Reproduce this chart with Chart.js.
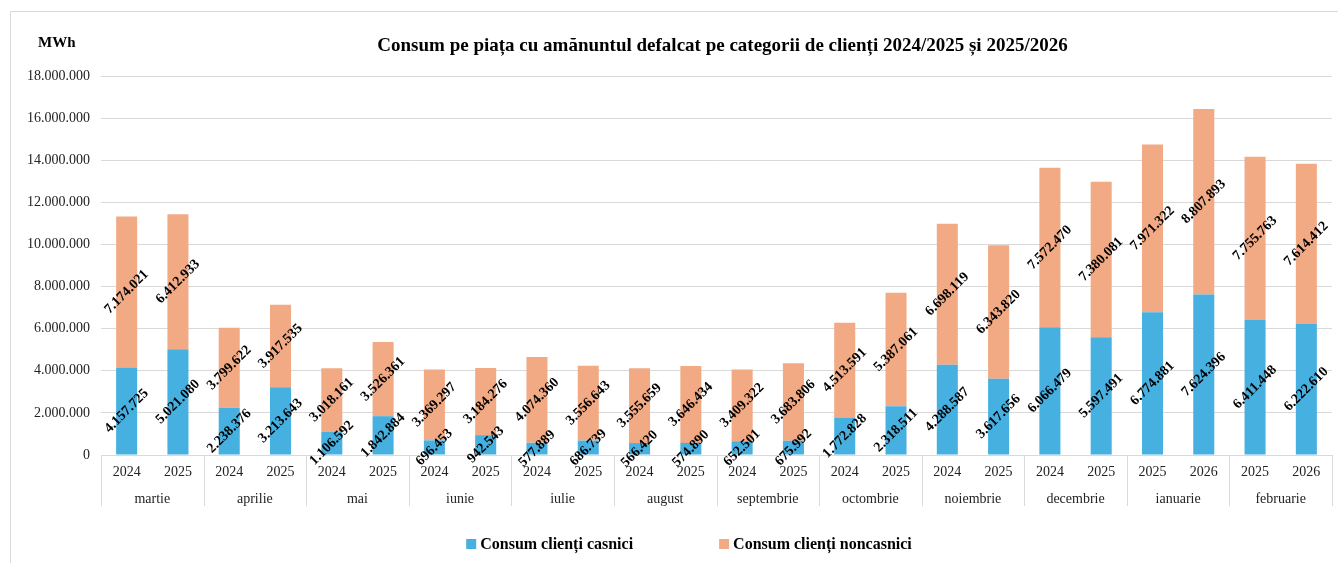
<!DOCTYPE html>
<html lang="ro">
<head>
<meta charset="utf-8">
<title>Consum pe piața cu amănuntul</title>
<script src="https://cdn.jsdelivr.net/npm/chart.js@4.4.1/dist/chart.umd.min.js"></script>
<style>
  html, body { margin: 0; padding: 0; background: #fff; }
  #wrap { position: relative; width: 1338px; height: 563px; }
</style>
</head>
<body>
<div id="wrap"><canvas id="consumChart"></canvas></div>
<script>
const months = ['martie', 'aprilie', 'mai', 'iunie', 'iulie', 'august',
    'septembrie', 'octombrie', 'noiembrie', 'decembrie', 'ianuarie', 'februarie'];
const years = ['2024', '2025', '2024', '2025', '2024', '2025', '2024', '2025',
    '2024', '2025', '2024', '2025', '2024', '2025', '2024', '2025',
    '2024', '2025', '2024', '2025', '2025', '2026', '2025', '2026'];
const casnici = [4157725, 5021080, 2238376, 3213643, 1106592, 1842884, 696453, 942543,
    577889, 686739, 566420, 574890, 652501, 675992, 1772828, 2318511,
    4288587, 3617656, 6066479, 5597491, 6774881, 7624396, 6411448, 6222610];
const noncasnici = [7174021, 6412933, 3799622, 3917535, 3018161, 3526361, 3369297, 3184276,
    4074360, 3556643, 3555659, 3646434, 3409322, 3683806, 4513591, 5387061,
    6698119, 6343820, 7572470, 7380081, 7971322, 8807893, 7755763, 7614412];
const seriesNames = ['Consum clienți casnici', 'Consum clienți noncasnici'];
const seriesColors = ['#46b0e1', '#f2aa84'];
const yMax = 18000000;
const yStep = 2000000;
const chartTitle = 'Consum pe piața cu amănuntul defalcat pe categorii de clienți 2024/2025 și 2025/2026';
const unitLabel = 'MWh';

const serif = '"Liberation Serif", "Times New Roman", serif';
const gridColor = '#d9d9d9';

// 1.234.567 style numbers
function fmt(v) {
    return String(Math.round(v)).replace(/\B(?=(\d{3})+(?!\d))/g, '.');
}

// frame, title, unit label and legend
const decorPlugin = {
    id: 'decor',
    beforeDraw(chart) {
        const ctx = chart.ctx;
        ctx.save();
        ctx.strokeStyle = gridColor;
        ctx.lineWidth = 1;
        ctx.beginPath();
        ctx.moveTo(10.5, chart.height);
        ctx.lineTo(10.5, 11.5);
        ctx.lineTo(chart.width, 11.5);
        ctx.stroke();
        ctx.restore();
    },
    afterDraw(chart) {
        const ctx = chart.ctx;
        const area = chart.chartArea;
        ctx.save();
        ctx.fillStyle = '#000';
        ctx.textBaseline = 'middle';

        ctx.font = 'bold 19px ' + serif;
        ctx.textAlign = 'center';
        ctx.fillText(chartTitle, (area.left + area.right) / 2 + 6, 46);

        ctx.font = 'bold 15px ' + serif;
        ctx.textAlign = 'left';
        ctx.fillText(unitLabel, 38, 43);

        // legend
        ctx.font = 'bold 16px ' + serif;
        const box = 10, boxGap = 4, itemGap = 86;
        const widths = seriesNames.map(n => ctx.measureText(n).width);
        const total = widths.reduce((a, w) => a + box + boxGap + w, 0) + itemGap * (seriesNames.length - 1);
        let x = chart.width / 2 + 20 - total / 2;
        const y = 544;
        seriesNames.forEach((name, i) => {
            ctx.fillStyle = seriesColors[i];
            ctx.fillRect(x, y - box / 2, box, box);
            ctx.fillStyle = '#000';
            ctx.fillText(name, x + box + boxGap, y + 1);
            x += box + boxGap + widths[i] + itemGap;
        });
        ctx.restore();
    }
};

// month separators under the axis
const separatorPlugin = {
    id: 'separators',
    afterDraw(chart) {
        const ctx = chart.ctx;
        const xs = chart.scales.x;
        const x2 = chart.scales.x2;
        const top = chart.chartArea.bottom;
        const bottom = x2.bottom;
        const per = years.length / months.length;
        ctx.save();
        ctx.strokeStyle = gridColor;
        ctx.lineWidth = 1;
        ctx.beginPath();
        for (let m = 0; m <= months.length; m++) {
            let px;
            if (m === 0) px = xs.left;
            else if (m === months.length) px = xs.right;
            else px = (xs.getPixelForValue(m * per - 1) + xs.getPixelForValue(m * per)) / 2;
            px = Math.round(px) + 0.5;
            ctx.moveTo(px, top);
            ctx.lineTo(px, bottom);
        }
        ctx.stroke();
        ctx.restore();
    }
};

// rotated value labels centred on each segment
const valueLabelPlugin = {
    id: 'valueLabels',
    afterDatasetsDraw(chart) {
        const ctx = chart.ctx;
        ctx.save();
        ctx.font = 'bold 14px ' + serif;
        ctx.fillStyle = '#000';
        ctx.textAlign = 'center';
        ctx.textBaseline = 'middle';
        chart.data.datasets.forEach((ds, i) => {
            const meta = chart.getDatasetMeta(i);
            meta.data.forEach((bar, j) => {
                const p = bar.getProps(['x', 'y', 'base'], true);
                ctx.save();
                ctx.translate(p.x, (p.y + p.base) / 2);
                ctx.rotate(-Math.PI / 4);
                ctx.fillText(fmt(ds.data[j]), 0, 0);
                ctx.restore();
            });
        });
        ctx.restore();
    }
};

document.addEventListener('DOMContentLoaded', function() {
    const ctx = document.getElementById('consumChart').getContext('2d');
    new Chart(ctx, {
        type: 'bar',
        data: {
            labels: years,
            datasets: [
                {
                    label: seriesNames[0],
                    data: casnici,
                    backgroundColor: seriesColors[0],
                    barPercentage: 0.41,
                    categoryPercentage: 1
                },
                {
                    label: seriesNames[1],
                    data: noncasnici,
                    backgroundColor: seriesColors[1],
                    barPercentage: 0.41,
                    categoryPercentage: 1
                }
            ]
        },
        options: {
            responsive: true,
            maintainAspectRatio: false,
            animation: false,
            layout: {
                padding: { top: 76, right: 6, bottom: 57, left: 0 }
            },
            plugins: {
                legend: { display: false },
                title: { display: false },
                tooltip: { enabled: false }
            },
            scales: {
                x: {
                    stacked: true,
                    grid: { display: false },
                    border: { display: true, color: gridColor },
                    ticks: {
                        color: '#222',
                        font: { family: serif, size: 14 },
                        padding: 1,
                        maxRotation: 0,
                        autoSkip: false
                    },
                    afterFit(scale) { scale.height = 28; }
                },
                x2: {
                    type: 'category',
                    labels: months,
                    position: 'bottom',
                    offset: true,
                    grid: { display: false },
                    border: { display: false },
                    ticks: {
                        color: '#222',
                        font: { family: serif, size: 14 },
                        padding: 0,
                        maxRotation: 0,
                        autoSkip: false
                    },
                    afterFit(scale) { scale.height = 23; }
                },
                y: {
                    stacked: true,
                    min: 0,
                    max: yMax,
                    grid: { color: gridColor, drawTicks: false },
                    border: { display: false },
                    ticks: {
                        stepSize: yStep,
                        color: '#222',
                        padding: 11,
                        font: { family: serif, size: 14 },
                        callback: v => fmt(v)
                    },
                    afterFit(scale) { scale.width = 101; }
                }
            }
        },
        plugins: [decorPlugin, separatorPlugin, valueLabelPlugin]
    });
});
</script>
</body>
</html>
